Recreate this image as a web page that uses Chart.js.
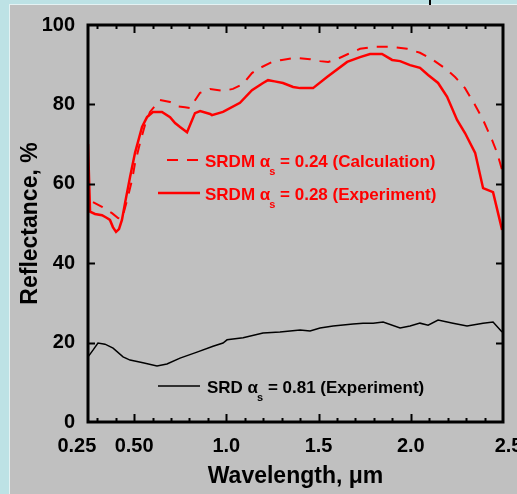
<!DOCTYPE html>
<html>
<head>
<meta charset="utf-8">
<script src="https://cdn.jsdelivr.net/npm/chart.js@4.4.1/dist/chart.umd.min.js"></script>
<style>
  body { margin: 0; background: #bde2e5; overflow: hidden; }
  #panel { position: absolute; left: 9px; top: 4px; width: 508px; height: 490px; background: #c0c0c0; border-left: 1px solid #e4f2f3; border-top: 1px solid #e4f2f3; }
  #mark { position: absolute; left: 429px; top: 0; width: 2px; height: 5px; background: #000; }
  #wrap { position: absolute; left: 0; top: 0; width: 517px; height: 494px; }
</style>
</head>
<body>
<div id="panel"></div>
<div id="mark"></div>
<div id="wrap"><canvas id="myChart" width="517" height="494"></canvas></div>
<script>
var ctx = document.getElementById('myChart').getContext('2d');

// SRDM, experiment (solid red)
const expWl = [0.25, 0.261, 0.288, 0.326, 0.353, 0.369, 0.385, 0.402, 0.418, 0.434, 0.451, 0.478, 0.505, 0.543, 0.570, 0.602, 0.651, 0.695, 0.722, 0.749, 0.787, 0.830, 0.858, 0.912, 0.922, 0.982, 1.074, 1.139, 1.199, 1.226, 1.262, 1.307, 1.362, 1.400, 1.470, 1.546, 1.655, 1.725, 1.779, 1.844, 1.899, 1.942, 1.996, 2.050, 2.094, 2.148, 2.197, 2.251, 2.294, 2.349, 2.392, 2.446, 2.495];
const expR  = [70.0, 53.0, 52.4, 52.1, 51.4, 50.9, 49.1, 47.9, 48.6, 50.9, 55.2, 61.7, 67.8, 74.3, 76.8, 78.1, 78.1, 76.8, 75.3, 74.3, 73.0, 77.8, 78.3, 77.6, 77.3, 78.1, 80.4, 83.6, 85.4, 86.1, 85.8, 85.4, 84.4, 84.1, 84.1, 86.9, 90.7, 91.9, 92.7, 92.7, 91.2, 90.9, 89.9, 89.2, 87.4, 85.4, 81.9, 76.1, 72.8, 67.8, 58.9, 57.9, 48.4];

// SRDM, calculation (dashed red)
const calcWl = [0.277, 0.326, 0.380, 0.413, 0.435, 0.462, 0.489, 0.505, 0.532, 0.559, 0.586, 0.640, 0.695, 0.740, 0.776, 0.803, 0.857, 0.912, 0.982, 1.036, 1.090, 1.139, 1.183, 1.248, 1.302, 1.373, 1.454, 1.508, 1.552, 1.600, 1.660, 1.725, 1.796, 1.888, 1.980, 2.050, 2.121, 2.197, 2.240, 2.294, 2.349, 2.392, 2.441, 2.468, 2.495];
const calcR  = [55.4, 54.2, 52.6, 51.4, 51.2, 55.9, 61.0, 65.2, 70.3, 74.8, 78.1, 81.1, 80.6, 79.5, 79.3, 79.1, 82.9, 83.9, 83.4, 83.9, 85.1, 87.9, 89.2, 90.7, 91.2, 91.7, 91.4, 90.9, 90.7, 91.4, 92.7, 94.0, 94.5, 94.5, 94.0, 93.0, 91.2, 88.7, 86.9, 84.1, 79.8, 76.1, 71.0, 67.8, 63.5];

// SRD, experiment (black)
const srdWl = [0.25, 0.277, 0.304, 0.342, 0.386, 0.440, 0.478, 0.548, 0.624, 0.678, 0.749, 0.841, 0.928, 0.982, 1.004, 1.091, 1.199, 1.291, 1.400, 1.454, 1.508, 1.579, 1.687, 1.741, 1.796, 1.850, 1.942, 1.996, 2.050, 2.094, 2.148, 2.229, 2.305, 2.392, 2.446, 2.495];
const srdR  = [16.4, 18.1, 19.9, 19.6, 18.6, 16.4, 15.6, 14.9, 14.1, 14.6, 16.1, 17.6, 19.1, 19.9, 20.7, 21.2, 22.4, 22.7, 23.2, 22.9, 23.7, 24.2, 24.7, 24.9, 24.9, 25.2, 23.7, 24.2, 24.9, 24.4, 25.7, 24.9, 24.2, 24.9, 25.2, 22.7];

// tick labels
const xTickValues = [0.25, 0.5, 1.0, 1.5, 2.0, 2.5];
const xTickLabels = ['0.25    ', '0.50', '1.0', '1.5', '2.0', '  2.5'];
const yTickValues = [20, 40, 60, 80];

function pts(xs, ys) {
  return xs.map((x, i) => ({ x: x, y: ys[i] }));
}

// frame + inward ticks
const framePlugin = {
  id: 'frame',
  afterDatasetsDraw(chart) {
    const c = chart.ctx, a = chart.chartArea;
    const sx = chart.scales.x, sy = chart.scales.y;
    c.save();
    c.strokeStyle = '#000';
    c.lineWidth = 2;
    for (let i = 3; i <= 24; i++) {
      const v = i / 10;
      const major = (i % 5 === 0);
      const px = Math.round(sx.getPixelForValue(v)) + 0.5;
      const len = major ? 8 : 4;
      c.beginPath();
      c.moveTo(px, a.bottom); c.lineTo(px, a.bottom - len);
      c.moveTo(px, a.top); c.lineTo(px, a.top + len);
      c.stroke();
    }
    yTickValues.forEach(v => {
      const py = Math.round(sy.getPixelForValue(v)) + 0.5;
      c.beginPath();
      c.moveTo(a.left, py); c.lineTo(a.left + 7, py);
      c.moveTo(a.right, py); c.lineTo(a.right - 7, py);
      c.stroke();
    });
    c.lineWidth = 3;
    c.strokeRect(a.left, a.top, a.right - a.left, a.bottom - a.top);
    c.restore();
  }
};

// legend with subscripts
const legendPlugin = {
  id: 'legendText',
  afterDraw(chart) {
    const c = chart.ctx;
    function entry(x1, x2, ly, dash, lw, color, tx, ty, name, rest) {
      c.save();
      c.strokeStyle = color;
      c.lineWidth = lw;
      c.setLineDash(dash);
      c.beginPath(); c.moveTo(x1, ly); c.lineTo(x2, ly); c.stroke();
      c.setLineDash([]);
      c.fillStyle = color;
      c.textBaseline = 'alphabetic';
      c.font = 'bold 17px "Liberation Sans", Arial, sans-serif';
      c.fillText(name + ' \u03b1', tx, ty);
      let w = c.measureText(name + ' \u03b1').width;
      c.font = 'bold 11px "Liberation Sans", Arial, sans-serif';
      c.fillText('s', tx + w - 1, ty + 8);
      w += c.measureText('s').width - 1;
      c.font = 'bold 17px "Liberation Sans", Arial, sans-serif';
      c.fillText(rest, tx + w, ty);
      c.restore();
    }
    entry(167, 198, 160, [11, 9], 2, '#ff0000', 205, 167, 'SRDM', ' = 0.24 (Calculation)');
    entry(158, 200, 193, [], 2.5, '#ff0000', 205, 200, 'SRDM', ' = 0.28 (Experiment)');
    entry(158, 200, 386, [], 1.5, '#000000', 207, 393, 'SRD', ' = 0.81 (Experiment)');
  }
};

const tickFont = { family: '"Liberation Sans", Arial, sans-serif', size: 20, weight: 'bold' };
const titleFont = { family: '"Liberation Sans", Arial, sans-serif', size: 23, weight: 'bold' };

var config = {
  type: 'scatter',
  data: {
    datasets: [{
      label: 'SRDM as = 0.24 (Calculation)',
      data: pts(calcWl, calcR),
      showLine: true,
      borderColor: '#ff0000',
      borderWidth: 2,
      borderDash: [11, 9],
      pointRadius: 0,
      tension: 0
    }, {
      label: 'SRDM as = 0.28 (Experiment)',
      data: pts(expWl, expR),
      showLine: true,
      borderColor: '#ff0000',
      borderWidth: 2.5,
      pointRadius: 0,
      tension: 0
    }, {
      label: 'SRD as = 0.81 (Experiment)',
      data: pts(srdWl, srdR),
      showLine: true,
      borderColor: '#000000',
      borderWidth: 1.5,
      pointRadius: 0,
      tension: 0
    }]
  },
  options: {
    responsive: false,
    animation: false,
    layout: { padding: 0 },
    plugins: { legend: { display: false }, tooltip: { enabled: false } },
    scales: {
      x: {
        type: 'linear', position: 'bottom', min: 0.25, max: 2.5,
        afterBuildTicks: s => { s.ticks = xTickValues.map(v => ({ value: v })); },
        // fixed height, and no extra side padding for the end labels
        afterFit: s => { s.height = 72; s.paddingLeft = 0; s.paddingRight = 0; },
        ticks: {
          autoSkip: false, maxRotation: 0, padding: 12, color: '#000', font: tickFont,
          callback: (v) => { const i = xTickValues.indexOf(v); return i >= 0 ? xTickLabels[i] : ''; }
        },
        grid: { display: false, drawTicks: false },
        border: { display: false },
        title: { display: true, text: 'Wavelength, \u03bcm', color: '#000', font: titleFont, padding: { top: 0, bottom: 4 } }
      },
      x2: {
        type: 'linear', axis: 'x', position: 'top', min: 0.25, max: 2.5,
        afterFit: s => { s.height = 25; s.paddingLeft = 0; s.paddingRight = 0; },
        ticks: { display: false },
        grid: { display: false, drawTicks: false },
        border: { display: false }
      },
      y: {
        min: 0, max: 100,
        afterFit: s => { s.width = 88; s.paddingTop = 0; s.paddingBottom = 0; },
        ticks: { stepSize: 20, padding: 13, color: '#000', font: tickFont },
        grid: { display: false, drawTicks: false },
        border: { display: false },
        title: { display: true, text: 'Reflectance, %', color: '#000', font: titleFont, padding: { top: 17, bottom: 0 } }
      },
      y2: {
        type: 'linear', axis: 'y', position: 'right', min: 0, max: 100,
        afterFit: s => { s.width = 14; s.paddingTop = 0; s.paddingBottom = 0; },
        ticks: { display: false },
        grid: { display: false, drawTicks: false },
        border: { display: false }
      }
    }
  },
  plugins: [framePlugin, legendPlugin]
};

var chart = new Chart(ctx, config);
</script>
</body>
</html>
